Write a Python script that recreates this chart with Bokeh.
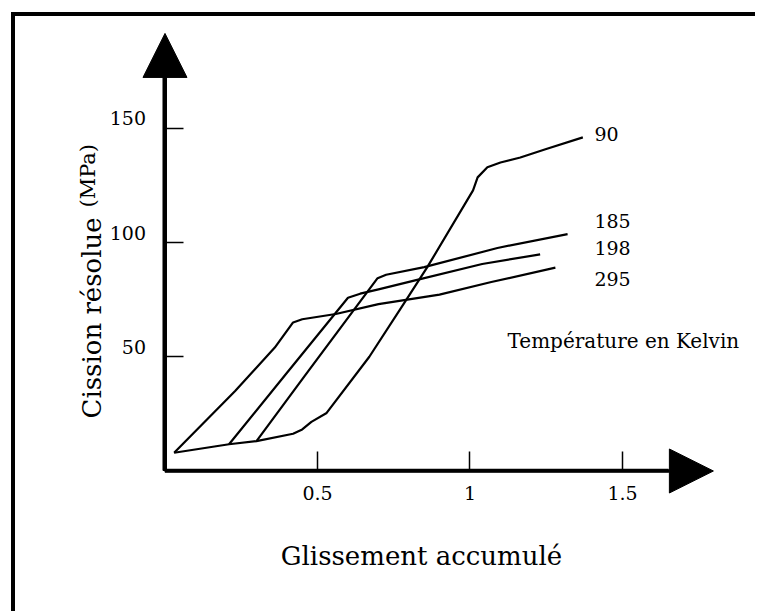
import math
from bokeh.plotting import figure
from bokeh.models import LinearAxis, FixedTicker, Arrow, NormalHead
from bokeh.core.properties import value
from bokeh.embed import file_html
from bokeh.resources import INLINE

# ---------------- data ----------------
temperatures = ["90", "185", "198", "295"]

glissement_90 = [0.03, 0.21, 0.30, 0.42, 0.45, 0.48, 0.53, 0.67, 0.79, 0.86, 1.01, 1.025, 1.057, 1.10, 1.165, 1.25, 1.37]
cission_90 = [8, 11.7, 13.1, 16.3, 18.2, 21.5, 25.4, 50, 74.7, 89.2, 122.8, 128.5, 132.9, 135, 137.2, 140.9, 146]

glissement_185 = [0.30, 0.46, 0.697, 0.725, 0.85, 1.09, 1.32]
cission_185 = [13.1, 42, 84.4, 85.9, 89.2, 97.6, 103.7]

glissement_198 = [0.21, 0.40, 0.60, 0.64, 0.70, 0.82, 1.04, 1.23]
cission_198 = [11.7, 43, 75.8, 77.6, 79.5, 83.4, 90.6, 94.8]

glissement_295 = [0.03, 0.23, 0.36, 0.42, 0.45, 0.56, 0.70, 0.90, 1.07, 1.28]
cission_295 = [8, 35, 54, 65, 66.4, 68.7, 73, 77.2, 82.7, 89]

x_ticks = [0.5, 1, 1.5]
x_tick_labels = ["0.5", "1", "1.5"]
y_ticks = [50, 100, 150]
y_tick_labels = ["50", "100", "150"]

x_title = "Glissement accumulé"
y_title_main = "Cission résolue"
y_title_unit = "(MPa)"
legend_title = "Température en Kelvin"

FONT = "DejaVu Serif"
BLACK = "black"

X_START, X_END = -0.5393, 1.9361
Y_START, Y_END = -61.49, 205.91

# ---------------- figure ----------------
p = figure(width=755, height=611, output_backend="svg", toolbar_location=None,
           x_range=(X_START, X_END), y_range=(Y_START, Y_END),
           x_axis_type=None, y_axis_type=None, min_border=0, title=None)
p.outline_line_color = None
p.background_fill_color = "white"
p.border_fill_color = "white"

# frame (left and top edges of the scanned figure box)
p.line([-0.4984, -0.4984, X_END], [Y_START, 200.0, 200.0],
       line_color=BLACK, line_width=4, line_join="miter")

# axes
xaxis = LinearAxis(fixed_location=0, ticker=FixedTicker(ticks=x_ticks), bounds=(0, 1.65),
                   major_label_overrides=dict(zip(x_ticks, x_tick_labels)))
yaxis = LinearAxis(fixed_location=0, ticker=FixedTicker(ticks=y_ticks), bounds=(0, 172),
                   major_label_overrides={t: "" for t in y_ticks})
for ax, lw in ((xaxis, 3.5), (yaxis, 4)):
    ax.axis_line_color = BLACK
    ax.axis_line_width = lw
    ax.major_tick_in = 19
    ax.major_tick_out = 0
    ax.major_tick_line_color = BLACK
    ax.major_tick_line_width = 1.5
    ax.minor_tick_line_color = None
    ax.major_label_text_font = FONT
    ax.major_label_text_font_size = "19px"
    ax.major_label_text_color = BLACK
xaxis.major_label_standoff = 15
p.add_layout(xaxis, "below")
p.add_layout(yaxis, "left")

# arrow heads on the axes
p.add_layout(Arrow(end=NormalHead(size=44, fill_color=BLACK, line_color=BLACK),
                   x_start=0, y_start=0, x_end=0, y_end=191.5,
                   line_color=BLACK, line_width=4))
p.add_layout(Arrow(end=NormalHead(size=44, fill_color=BLACK, line_color=BLACK),
                   x_start=0, y_start=0, x_end=1.798, y_end=0,
                   line_color=BLACK, line_width=3.5))

# y tick labels (drawn slightly above their ticks, as in the reference)
p.text(x=[0] * len(y_ticks), y=y_ticks, text=y_tick_labels,
       x_offset=-19, y_offset=-10, text_align="right", text_baseline="middle",
       text_font=value(FONT), text_font_size=value("19px"), text_color=BLACK)

# curves
series = [
    (glissement_90, cission_90),
    (glissement_185, cission_185),
    (glissement_198, cission_198),
    (glissement_295, cission_295),
]
for xs, ys in series:
    p.line(xs, ys, line_color=BLACK, line_width=2.2, line_join="round")

# curve labels
p.text(x=[1.408] * 4, y=[147.7, 109.2, 97.4, 84.2], text=temperatures,
       text_align="left", text_baseline="middle",
       text_font=value(FONT), text_font_size=value("19px"), text_color=BLACK)

p.text(x=[1.123], y=[57.1], text=[legend_title], text_align="left",
       text_baseline="alphabetic", text_font=value(FONT),
       text_font_size=value("20px"), text_color=BLACK)

# axis titles
p.text(x=[0.841], y=[-37.4], text=[x_title], text_align="center",
       text_baseline="alphabetic", text_font=value(FONT),
       text_font_size=value("26px"), text_color=BLACK)
p.text(x=[-0.2377], y=[23.0], text=[y_title_main], angle=math.pi / 2,
       text_align="left", text_baseline="alphabetic", text_font=value(FONT),
       text_font_size=value("26px"), text_color=BLACK)
p.text(x=[-0.2525], y=[115.3], text=[y_title_unit], angle=math.pi / 2,
       text_align="left", text_baseline="alphabetic", text_font=value(FONT),
       text_font_size=value("21px"), text_color=BLACK)

open("out.html", "w").write(file_html(p, INLINE))
